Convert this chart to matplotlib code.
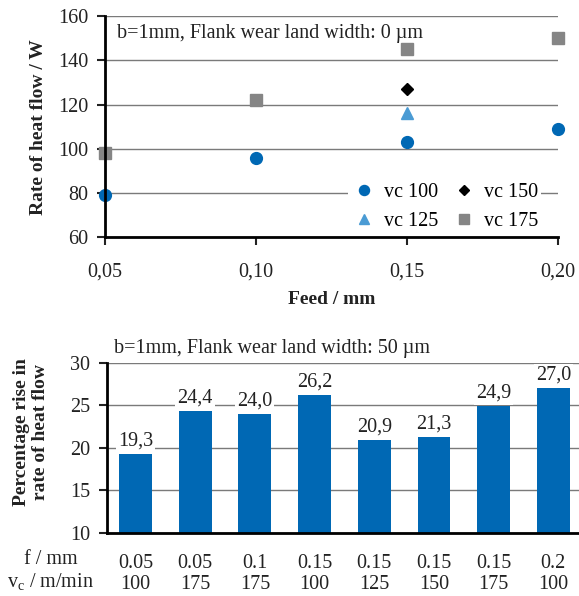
import matplotlib
matplotlib.use("Agg")
import matplotlib.pyplot as plt
import numpy as np

# ---------------------------------------------------------------
# Data
# ---------------------------------------------------------------
feed_100 = [0.05, 0.10, 0.15, 0.20]
heat_100 = [79, 96, 103, 109]
feed_125 = [0.15]
heat_125 = [116]
feed_150 = [0.15]
heat_150 = [127]
feed_175 = [0.05, 0.10, 0.15, 0.20]
heat_175 = [98, 122, 145, 150]

rise_f = ["0.05", "0.05", "0.1", "0.15", "0.15", "0.15", "0.15", "0.2"]
rise_vc = ["100", "175", "175", "100", "125", "150", "175", "100"]
rise_pct = [19.3, 24.4, 24.0, 26.2, 20.9, 21.3, 24.9, 27.0]

# ---------------------------------------------------------------
# Style
# ---------------------------------------------------------------
plt.rcParams['font.family'] = ['Liberation Serif', 'DejaVu Serif']
plt.rcParams['mathtext.fontset'] = 'custom'
plt.rcParams['mathtext.rm'] = 'Liberation Serif'
fs = 14.5
lfs = 14
plt.rcParams['font.size'] = fs

blue = '#0068b4'
lblue = '#4a9bd4'
grey = '#858585'
gridc = '#7a7a7a'
txt = '#222222'

fig = plt.figure(figsize=(5.79, 5.96), dpi=100)

# ---------------------------------------------------------------
# Top chart: heat flow vs feed
# ---------------------------------------------------------------
ax1 = fig.add_axes([0.181, 0.602, 0.783, 0.371])
ax1.set_xlim(0.05, 0.20)
ax1.set_ylim(60, 160)
ax1.set_yticks(np.arange(60, 161, 20))
ax1.set_xticks([0.05, 0.10, 0.15, 0.20])
ax1.set_xticklabels(["0,05", "0,10", "0,15", "0,20"])
ax1.grid(axis='y', color=gridc, lw=1)
ax1.set_axisbelow(True)
for s in ['top', 'right']:
    ax1.spines[s].set_visible(False)
for s in ['left', 'bottom']:
    ax1.spines[s].set_linewidth(2)
ax1.tick_params(axis='both', direction='out', length=6, width=1.5, labelsize=fs, colors=txt)
ax1.tick_params(axis='y', pad=6)
ax1.tick_params(axis='x', pad=12)

h1, = ax1.plot(feed_100, heat_100, 'o', color=blue, ms=8.5, ls='none', clip_on=False, label='vc 100')
h2, = ax1.plot(feed_125, heat_125, '^', color=lblue, ms=8.5, ls='none', clip_on=False, label='vc 125')
h3, = ax1.plot(feed_150, heat_150, 'D', color='black', ms=6.5, ls='none', clip_on=False, label='vc 150')
h4, = ax1.plot(feed_175, heat_175, 's', color=grey, ms=8, ls='none', clip_on=False, label='vc 175')

leg = ax1.legend(handles=[h1, h2, h3, h4], ncol=2, loc='lower right',
                 bbox_to_anchor=(0.985, -0.03), frameon=True, fontsize=fs,
                 handletextpad=0.35, columnspacing=0.6, labelspacing=0.5,
                 borderpad=0.15, handlelength=1.3, markerscale=0.85)
leg.get_frame().set_edgecolor('none')
leg.get_frame().set_facecolor('white')
leg.get_frame().set_alpha(1)
leg.get_frame().set_boxstyle('square', pad=0)

ax1.text(0.028, 0.965, "b=1mm, Flank wear land width: 0 µm", transform=ax1.transAxes,
         fontsize=fs, va='top', ha='left', color=txt)
ax1.set_ylabel("Rate of heat flow / W", fontweight='bold', fontsize=lfs, labelpad=8, color=txt)
ax1.set_xlabel("Feed / mm", fontweight='bold', fontsize=lfs, labelpad=7, color=txt)

# ---------------------------------------------------------------
# Bottom chart: percentage rise
# ---------------------------------------------------------------
ax2 = fig.add_axes([0.185, 0.106, 0.815, 0.285])
x = np.arange(len(rise_pct))
bars = ax2.bar(x, rise_pct, width=0.55, color=blue, zorder=2)
ax2.set_xlim(-0.475, 7.43)
ax2.set_ylim(10, 30)
ax2.set_yticks(np.arange(10, 31, 5))
ax2.grid(axis='y', color=gridc, lw=1)
ax2.set_axisbelow(True)
for s in ['top', 'right']:
    ax2.spines[s].set_visible(False)
for s in ['left', 'bottom']:
    ax2.spines[s].set_linewidth(2)
ax2.tick_params(axis='y', direction='out', length=6, width=1.5, pad=6, labelsize=fs, colors=txt)
ax2.set_xticks(x)
ax2.set_xticklabels([f + "\n" + v for f, v in zip(rise_f, rise_vc)], linespacing=1.15)
ax2.tick_params(axis='x', length=0, pad=15, labelsize=fs, colors=txt)

for xi, v in zip(x, rise_pct):
    ax2.text(xi, v + 0.4, ("%.1f" % v).replace('.', ','), ha='center', va='bottom',
             fontsize=fs, color=txt, zorder=3,
             bbox=dict(boxstyle='square,pad=0.1', fc='white', ec='none'))

ax2.text(0.015, 1.03, "b=1mm, Flank wear land width: 50 µm", transform=ax2.transAxes,
         fontsize=fs, va='bottom', ha='left', color=txt)
fig.text(31 / 579, 1 - 432 / 596, "Percentage rise in\nrate of heat flow", rotation=90,
         ha='center', va='center', multialignment='center', fontweight='bold',
         fontsize=lfs, linespacing=1.2, color=txt)

fig.text(0.088, 1 - 559 / 596, "f / mm", ha='center', va='center', fontsize=fs, color=txt)
fig.text(0.088, 1 - 582 / 596, r"v$_\mathrm{c}$ / m/min", ha='center', va='center', fontsize=fs, color=txt)

fig.savefig("out.png", dpi=100, facecolor='white')
